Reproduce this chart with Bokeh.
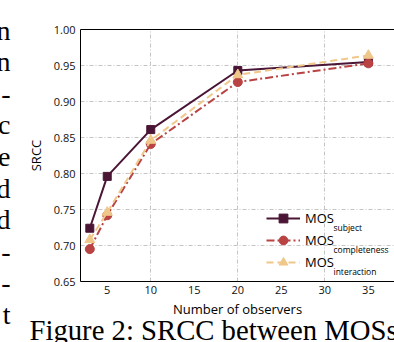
from bokeh.plotting import figure
from bokeh.models import (Legend, LegendItem, Label, LinearAxis, FixedTicker,
                          Range1d, PrintfTickFormatter, Title)
from bokeh.embed import file_html
from bokeh.resources import INLINE

# ---- data ----
observers = [3, 5, 10, 20, 35]
mos_subject = [0.724, 0.796, 0.861, 0.943, 0.955]
mos_completeness = [0.695, 0.742, 0.841, 0.927, 0.953]
mos_interaction = [0.708, 0.746, 0.846, 0.937, 0.964]

series_main = ["MOS", "MOS", "MOS"]
series_sub = ["subject", "completeness", "interaction"]

x_ticks = [5, 10, 15, 20, 25, 30, 35]
x_grid_ticks = [10, 20, 30]
y_ticks = [0.65, 0.70, 0.75, 0.80, 0.85, 0.90, 0.95, 1.00]
y_grid_ticks = [0.70, 0.75, 0.80, 0.85, 0.90, 0.95]

x_title = "Number of observers"
y_title = "SRCC"
caption = "Figure 2: SRCC between MOSs"
margin_letters = ["n", "n", "-", "c", "e", "d", "d", "-", "-", "t", "e"]

# ---- styles ----
C_SUBJ = "#4b1535"
C_COMP = "#b94242"
C_INTR = "#f0c78a"
FONT = "Open Sans"
SERIF = "Liberation Serif"

W, H = 394, 342
FL, FT, FB = 80, 29, 61   # frame borders (canvas px)

p = figure(width=W, height=H, output_backend="svg", toolbar_location=None,
           x_range=Range1d(1.93, 38.0), y_range=Range1d(0.65, 1.0),
           min_border_left=FL, min_border_right=0, min_border_top=FT,
           min_border_bottom=FB)
p.outline_line_color = None
p.background_fill_color = "white"
p.border_fill_color = "white"

# axes
for ax in (p.xaxis[0], p.yaxis[0]):
    ax.axis_line_color = "black"
    ax.axis_line_width = 1
    ax.major_tick_line_color = None
    ax.minor_tick_line_color = None
    ax.major_tick_out = 0
    ax.major_tick_in = 0
    ax.major_label_text_font = FONT
    ax.major_label_text_font_size = "11px"
    ax.major_label_text_color = "#111111"
    ax.axis_label_text_font = FONT
    ax.axis_label_text_font_size = "13px"
    ax.axis_label_text_font_style = "normal"
    ax.axis_label_text_color = "black"

p.xaxis.ticker = FixedTicker(ticks=x_ticks)
p.yaxis.ticker = FixedTicker(ticks=y_ticks)
p.yaxis.formatter = PrintfTickFormatter(format="%.2f")
p.xaxis.axis_label = x_title
p.yaxis.axis_label = y_title
p.xaxis.major_label_standoff = 4
p.xaxis.axis_label_standoff = 3
p.yaxis.major_label_standoff = 5
p.yaxis.axis_label_standoff = 6

top = LinearAxis(ticker=FixedTicker(ticks=[]), axis_line_color="black",
                 major_tick_line_color=None, minor_tick_line_color=None,
                 major_label_text_font_size="0px")
p.add_layout(top, "above")

# grids
p.xgrid.ticker = FixedTicker(ticks=x_grid_ticks)
p.ygrid.ticker = FixedTicker(ticks=y_grid_ticks)
for g in (p.xgrid[0], p.ygrid[0]):
    g.grid_line_color = "#c4c4c4"
    g.grid_line_width = 1
    g.grid_line_dash = "4 2 1 2"

# series
l1 = p.line(observers, mos_subject, line_color=C_SUBJ, line_width=2)
m1 = p.scatter(observers, mos_subject, marker="square", size=8, color=C_SUBJ)
l2 = p.line(observers, mos_completeness, line_color=C_COMP, line_width=2,
            line_dash="8 3 2 3")
m2 = p.scatter(observers, mos_completeness, marker="circle", size=9, color=C_COMP)
l3 = p.line(observers, mos_interaction, line_color=C_INTR, line_width=2,
            line_dash="7 4")
m3 = p.scatter(observers, mos_interaction, marker="triangle", size=10, color=C_INTR)

legend = Legend(items=[LegendItem(label=series_main[0], renderers=[l1, m1]),
                       LegendItem(label=series_main[1], renderers=[l2, m2]),
                       LegendItem(label=series_main[2], renderers=[l3, m3])],
                location=(186, 8), border_line_color=None,
                background_fill_alpha=0, padding=0, margin=0, spacing=0,
                glyph_width=34, glyph_height=22, label_height=22,
                label_standoff=5, label_text_font=FONT,
                label_text_font_size="13px", label_text_color="black")
p.add_layout(legend)

# subscripts of legend labels (screen units relative to frame bottom-left)
def page_to_screen(px, py):
    return px - FL, (H - FB) - py

for i, sub in enumerate(series_sub):
    sx, sy = page_to_screen(333, 227 + 22 * i)
    p.add_layout(Label(x=sx, y=sy, x_units="screen", y_units="screen", text=sub,
                       text_font=FONT, text_font_size="8.5px", text_color="black",
                       text_baseline="alphabetic", text_align="left"))

# caption below the chart
cap = Title(text=caption, align="left", offset=-51, vertical_align="bottom",
            standoff=-16.8, text_font=SERIF, text_font_size="28.7px",
            text_font_style="normal", text_color="black")
p.add_layout(cap, "below")

# cut-off column of body text at the left edge of the page
margin_text = Label(x=1, y=267, x_units="screen", y_units="screen",
                    text="\n".join(margin_letters), text_font=SERIF,
                    text_font_size="28px", text_color="black",
                    text_align="right", text_baseline="top",
                    text_line_height=1.02)
p.add_layout(margin_text, "left")

open("out.html", "w").write(file_html(p, INLINE))
